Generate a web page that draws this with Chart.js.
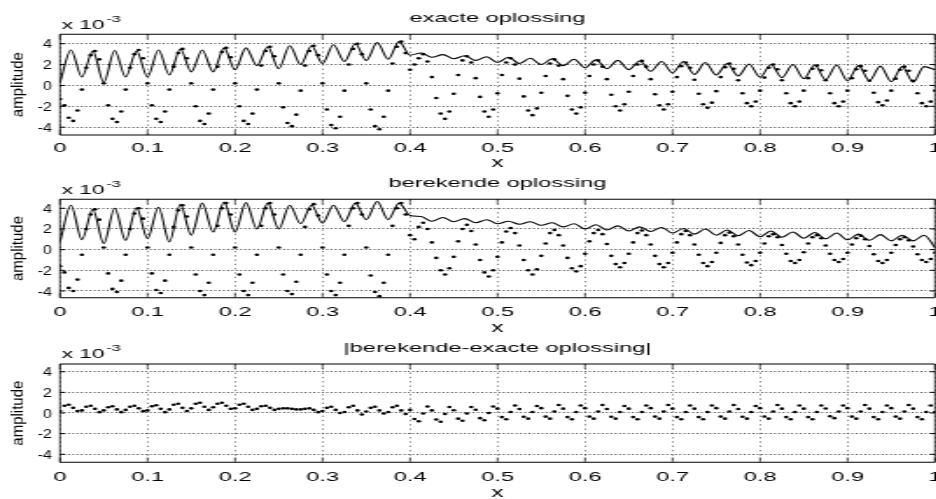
<!DOCTYPE html>
<html>
<head>
<meta charset="utf-8">
<title>exacte en berekende oplossing</title>
<script src="https://cdn.jsdelivr.net/npm/chart.js@4.4.1/dist/chart.umd.min.js"></script>
<style>
    html, body { margin: 0; padding: 0; background: #fff; overflow: hidden; }
    body { width: 936px; height: 499px; position: relative; }
    /* the scanned figure is much wider than its text is tall, so each canvas is widened */
    .band { position: absolute; left: 0; width: 535px; height: 172px; transform: scaleX(1.75); transform-origin: 0 0; }
</style>
</head>
<body>
<div class="band" style="top:0px"><canvas id="exactChart" width="535" height="172"></canvas></div>
<div class="band" style="top:165px"><canvas id="computedChart" width="535" height="172"></canvas></div>
<div class="band" style="top:330px"><canvas id="differenceChart" width="535" height="172"></canvas></div>
<script>
const xTicks = [0, 0.1, 0.2, 0.3, 0.4, 0.5, 0.6, 0.7, 0.8, 0.9, 1]
const xTickLabels = ['0', '0.1', '0.2', '0.3', '0.4', '0.5', '0.6', '0.7', '0.8', '0.9', '1']
const yTicks = [-4, -2, 0, 2, 4]
const yTickLabels = ['-4', '-2', '0', '2', '4']

// sampling of the two kinds of curves along x
const dotStep = 0.005
const lineStep = 0.0125

// exacte oplossing (values x 10^-3)
const exactLine = [
    0.3, 3.4, 0.8, 3.3, 0.3, 3.35, 0.8, 3.3, 0.8, 3.4,
    1.0, 3.5, 1.3, 3.4, 1.3, 3.6, 1.5, 3.6, 1.9, 3.7,
    1.6, 3.8, 2.0, 3.8, 2.1, 3.9, 2.3, 4.0, 2.4, 4.1,
    2.5, 4.2, 2.9, 3.1, 2.7, 2.95, 2.55, 2.85, 2.4, 2.75,
    2.2, 2.7, 2.1, 2.6, 2.0, 2.55, 1.9, 2.5, 1.7, 2.45,
    1.6, 2.4, 1.5, 2.35, 1.35, 2.3, 1.2, 2.3, 1.05, 2.2,
    1.0, 2.1, 0.9, 2.05, 0.8, 2.0, 0.75, 2.0, 0.65, 1.95,
    0.55, 1.95, 0.45, 1.9, 0.45, 1.85, 0.35, 1.8, 0.3, 1.8,
    1.5
]
const exactDots = [
    -1.3, -1.9, -3.1, -3.4, -2.4, -0.4, 1.7, 2.9, 3.3, 2.5,
    0.2, -1.9, -3.2, -3.5, -2.5, -0.4, 1.7, 3.0, 3.4, 2.6,
    0.2, -1.9, -3.2, -3.5, -2.5, -0.4, 1.8, 3.1, 3.5, 2.6,
    0.2, -2.0, -3.4, -3.7, -2.7, -0.4, 1.8, 3.2, 3.6, 2.7,
    0.2, -2.0, -3.4, -3.7, -2.7, -0.4, 1.9, 3.3, 3.7, 2.8,
    0.2, -2.1, -3.6, -3.9, -2.8, -0.5, 1.9, 3.3, 3.8, 2.9,
    0.2, -2.3, -3.8, -4.1, -3.0, -0.5, 2.0, 3.5, 4.0, 3.0,
    0.2, -2.3, -3.9, -4.2, -3.0, -0.5, 2.1, 3.7, 4.2, 3.1,
    1.5, 2.0, 2.6, 3.0, 2.3, 0.8, -1.2, -2.7, -3.2, -2.5,
    -0.8, 1.0, 2.4, 2.8, 2.2, 0.7, -1.1, -2.5, -3.0, -2.3,
    -0.75, 1.0, 2.2, 2.6, 2.0, 0.65, -1.05, -2.4, -2.85, -2.2,
    -0.7, 0.9, 2.1, 2.5, 1.9, 0.6, -1.0, -2.3, -2.7, -2.1,
    -0.7, 0.9, 2.0, 2.4, 1.8, 0.6, -0.9, -2.0, -2.4, -1.8,
    -0.6, 0.9, 2.0, 2.35, 1.8, 0.6, -0.85, -1.9, -2.3, -1.8,
    -0.6, 0.8, 1.85, 2.2, 1.7, 0.55, -0.8, -1.8, -2.15, -1.65,
    -0.55, 0.8, 1.75, 2.1, 1.6, 0.5, -0.75, -1.7, -2.0, -1.55,
    -0.5, 0.75, 1.7, 2.0, 1.55, 0.5, -0.75, -1.7, -2.0, -1.55,
    -0.5, 0.7, 1.6, 1.9, 1.45, 0.5, -0.75, -1.7, -2.0, -1.55,
    -0.5, 0.7, 1.55, 1.85, 1.4, 0.45, -0.7, -1.6, -1.9, -1.45,
    -0.5, 0.65, 1.5, 1.8, 1.4, 0.45, -0.75, -1.7, -2.0, -1.55,
    -0.5
]

// berekende oplossing
const computedLine = [
    0.75, 4.3, 0.97, 3.9, 0.6, 4.0, 0.9, 4.05, 1.07, 4.1,
    0.75, 4.4, 1.4, 4.5, 1.7, 4.6, 1.7, 4.55, 2.0, 4.5,
    2.0, 4.3, 2.5, 4.3, 2.55, 4.3, 2.7, 4.5, 2.9, 4.65,
    2.9, 4.5, 3.3, 3.2, 2.75, 3.1, 2.7, 3.0, 2.6, 2.9,
    2.5, 2.75, 2.45, 2.7, 2.35, 2.6, 2.2, 2.5, 2.0, 2.4,
    1.9, 2.3, 1.8, 2.2, 1.75, 2.15, 1.6, 2.05, 1.5, 2.0,
    1.4, 1.9, 1.35, 1.85, 1.25, 1.8, 1.2, 1.7, 1.1, 1.65,
    1.05, 1.6, 0.95, 1.5, 0.9, 1.45, 0.85, 1.4, 0.85, 1.4,
    0.2
]
const computedDots = [
    -1.6, -2.2, -3.7, -4.0, -2.9, -0.5, 2.0, 3.4, 3.9, 2.9,
    0.2, -2.3, -3.8, -4.1, -3.0, -0.5, 2.0, 3.5, 4.0, 3.0,
    0.2, -2.3, -3.9, -4.2, -3.0, -0.5, 2.2, 3.8, 4.3, 3.2,
    0.2, -2.4, -4.0, -4.4, -3.2, -0.5, 2.3, 4.0, 4.5, 3.4,
    0.2, -2.4, -4.0, -4.4, -3.2, -0.5, 2.3, 4.0, 4.5, 3.4,
    0.2, -2.4, -4.0, -4.3, -3.1, -0.5, 2.2, 3.9, 4.4, 3.3,
    0.2, -2.4, -4.0, -4.4, -3.2, -0.5, 2.3, 4.0, 4.5, 3.4,
    0.2, -2.5, -4.1, -4.5, -3.2, -0.5, 2.3, 4.0, 4.5, 3.4,
    1.4, 1.0, 2.2, 2.6, 2.0, 0.7, -0.8, -2.0, -2.4, -1.8,
    -0.7, 0.8, 2.0, 2.4, 1.8, 0.5, -1.0, -2.2, -2.6, -2.0,
    -0.7, 0.7, 1.75, 2.1, 1.6, 0.4, -1.0, -2.0, -2.4, -1.9,
    -0.6, 0.6, 1.6, 1.9, 1.4, 0.4, -0.8, -1.8, -2.1, -1.6,
    -0.4, 0.8, 1.6, 1.9, 1.5, 0.55, -0.6, -1.4, -1.7, -1.3,
    -0.4, 0.7, 1.6, 1.85, 1.4, 0.5, -0.6, -1.4, -1.7, -1.3,
    -0.3, 0.7, 1.5, 1.8, 1.4, 0.5, -0.5, -1.3, -1.6, -1.2,
    -0.3, 0.65, 1.4, 1.65, 1.3, 0.5, -0.5, -1.25, -1.5, -1.1,
    -0.3, 0.6, 1.3, 1.5, 1.2, 0.45, -0.4, -1.1, -1.3, -1.0,
    -0.25, 0.6, 1.2, 1.4, 1.1, 0.4, -0.4, -1.0, -1.2, -0.9,
    -0.3, 0.5, 1.1, 1.35, 1.0, 0.35, -0.45, -1.1, -1.3, -1.0,
    -0.3, 0.45, 1.0, 1.2, 0.9, 0.3, -0.45, -1.0, -1.2, -0.9,
    -0.3
]

// |berekende-exacte oplossing|
const differenceDots = [
    0.2, 0.7, 0.8, 0.5, 0.2,
    0.25, 0.6, 0.7, 0.4, 0.08,
    0.25, 0.55, 0.65, 0.35, 0.08,
    0.3, 0.6, 0.7, 0.45, 0.18,
    0.25, 0.65, 0.75, 0.4, 0.08,
    0.35, 0.8, 0.9, 0.5, 0.2,
    0.45, 0.9, 1.0, 0.6, 0.3,
    0.55, 0.9, 1.0, 0.7, 0.4,
    0.45, 0.8, 0.9, 0.6, 0.3,
    0.4, 0.65, 0.7, 0.5, 0.3,
    0.4, 0.45, 0.45, 0.4, 0.35,
    0.35, 0.4, 0.45, 0.3, 0.08,
    0.2, 0.5, 0.6, 0.3, 0.0,
    0.1, 0.55, 0.7, 0.25, -0.15,
    0.15, 0.5, 0.6, 0.25, -0.05,
    0.1, 0.55, 0.7, 0.25, -0.1,
    0.3, -0.58, -0.8, -0.05, 0.63,
    0.25, -0.63, -0.85, -0.1, 0.58,
    0.27, -0.55, -0.75, -0.05, 0.58,
    0.32, -0.5, -0.7, 0.0, 0.63,
    0.42, -0.4, -0.6, 0.1, 0.73,
    0.39, -0.37, -0.55, 0.1, 0.68,
    0.47, -0.35, -0.55, 0.15, 0.78,
    0.42, -0.4, -0.6, 0.1, 0.73,
    0.47, -0.35, -0.55, 0.15, 0.78,
    0.39, -0.37, -0.55, 0.1, 0.68,
    0.42, -0.4, -0.6, 0.1, 0.73,
    0.47, -0.35, -0.55, 0.15, 0.78,
    0.42, -0.4, -0.6, 0.1, 0.73,
    0.42, -0.4, -0.6, 0.1, 0.73,
    0.47, -0.35, -0.55, 0.15, 0.78,
    0.39, -0.37, -0.55, 0.1, 0.68,
    0.47, -0.35, -0.55, 0.15, 0.78,
    0.42, -0.4, -0.6, 0.1, 0.73,
    0.42, -0.4, -0.6, 0.1, 0.73,
    0.44, -0.32, -0.5, 0.15, 0.73,
    0.47, -0.35, -0.55, 0.15, 0.78,
    0.42, -0.4, -0.6, 0.1, 0.73,
    0.47, -0.35, -0.55, 0.15, 0.78,
    0.42, -0.4, -0.6, 0.1, 0.73,
    0.1
]

const STRETCH = 1.75
const BAND_HEIGHT = 172
const PLOT_LEFT = 60 / STRETCH
const FONT = "'Liberation Sans', Arial, Helvetica, sans-serif"

const panels = [
    { canvasId: 'exactChart', title: 'exacte oplossing', line: exactLine, dots: exactDots,
      yMin: -4.75, yMax: 4.9, plotTop: 34.3, plotBottom: 135, titlePad: 10.6, tickPad: 5.4 },
    { canvasId: 'computedChart', title: 'berekende oplossing', line: computedLine, dots: computedDots,
      yMin: -4.65, yMax: 4.87, plotTop: 34.3, plotBottom: 132.7, titlePad: 10.6, tickPad: 6 },
    { canvasId: 'differenceChart', title: '|berekende-exacte oplossing|', line: null, dots: differenceDots,
      yMin: -4.78, yMax: 4.75, plotTop: 34, plotBottom: 132.3, titlePad: 10.5, tickPad: 7 }
]

const toPoints = (values, step) => values.map((y, i) => ({ x: i * step, y: y }))

function strokeSegment(ctx, x1, y1, x2, y2, width) {
    ctx.lineWidth = width
    ctx.beginPath()
    ctx.moveTo(x1, y1)
    ctx.lineTo(x2, y2)
    ctx.stroke()
}

// the last tick label may run off the canvas, like in the scan: no padding for it
function noLabelPadding(axis) {
    axis.paddingLeft = 0
    axis.paddingRight = 0
    axis.paddingTop = 0
    axis.paddingBottom = 0
}

// box, inward ticks, y labels and the exponent, drawn like the matlab axes
const matlabAxes = {
    id: 'matlabAxes',
    afterDraw(chart) {
        const { ctx, chartArea: a, scales } = chart
        ctx.save()
        ctx.strokeStyle = '#000'
        ctx.fillStyle = '#000'

        strokeSegment(ctx, a.left, a.top, a.right, a.top, 1.1)
        strokeSegment(ctx, a.left, a.bottom, a.right, a.bottom, 1.1)
        strokeSegment(ctx, a.left, a.top, a.left, a.bottom, 0.75)
        strokeSegment(ctx, a.right, a.top, a.right, a.bottom, 0.75)

        xTicks.forEach(v => {
            const px = scales.x.getPixelForValue(v)
            strokeSegment(ctx, px, a.bottom, px, a.bottom - 5, 0.6)
            strokeSegment(ctx, px, a.top, px, a.top + 5, 0.6)
        })

        ctx.font = '13.5px ' + FONT
        ctx.textAlign = 'right'
        ctx.textBaseline = 'middle'
        yTicks.forEach((v, i) => {
            const py = scales.y.getPixelForValue(v)
            strokeSegment(ctx, a.left, py, a.left + 2.9, py, 1)
            strokeSegment(ctx, a.right, py, a.right - 2.9, py, 1)
            ctx.save()
            ctx.translate(52 / STRETCH, py + 0.8)
            ctx.scale(1.2 / STRETCH, 1)
            ctx.fillText(yTickLabels[i], 0, 0)
            ctx.restore()
        })

        // y axis title, kept upright in width so it is not widened
        ctx.save()
        ctx.translate(17.5 / STRETCH, (a.top + a.bottom) / 2)
        ctx.scale(1.1 / STRETCH, 1)
        ctx.rotate(-Math.PI / 2)
        ctx.font = '15px ' + FONT
        ctx.textAlign = 'center'
        ctx.textBaseline = 'middle'
        ctx.fillText('amplitude', 0, 0)
        ctx.restore()

        // exponent above the axes
        ctx.textAlign = 'left'
        ctx.textBaseline = 'alphabetic'
        ctx.font = '13px ' + FONT
        const baseX = 61.7 / STRETCH
        ctx.fillText('x 10', baseX, a.top - 5.6)
        const w = ctx.measureText('x 10').width
        ctx.font = '9.5px ' + FONT
        ctx.fillText('-3', baseX + w + 0.8, a.top - 12.8)

        ctx.restore()
    }
}

function buildPanel(panel) {
    const datasets = []
    if (panel.line) {
        datasets.push({
            data: toPoints(panel.line, lineStep),
            borderColor: '#000',
            borderWidth: 1.05,
            pointRadius: 0,
            fill: false,
            cubicInterpolationMode: 'monotone'
        })
    }
    datasets.push({
        data: toPoints(panel.dots, dotStep),
        showLine: false,
        pointRadius: 1.3,
        pointBorderWidth: 0,
        pointBackgroundColor: '#000',
        pointHoverRadius: 0
    })

    const titleLineHeight = 13.5 * 1.2

    return new Chart(document.getElementById(panel.canvasId), {
        type: 'line',
        data: { datasets: datasets },
        options: {
            responsive: false,
            animation: false,
            devicePixelRatio: 1,
            events: [],
            layout: { autoPadding: false, padding: { left: 0, right: 0.7, top: 0, bottom: 0 } },
            plugins: {
                legend: { display: false },
                tooltip: { enabled: false },
                title: {
                    display: true,
                    text: panel.title,
                    fullSize: false,
                    color: '#000',
                    font: { family: FONT, size: 13.5, weight: 'normal' },
                    padding: { top: panel.titlePad, bottom: panel.plotTop - panel.titlePad - titleLineHeight }
                }
            },
            scales: {
                x: {
                    type: 'linear',
                    min: 0,
                    max: 1,
                    afterBuildTicks: axis => { axis.ticks = xTicks.map(v => ({ value: v })) },
                    afterFit: axis => {
                        axis.height = BAND_HEIGHT - panel.plotBottom
                        noLabelPadding(axis)
                    },
                    ticks: {
                        autoSkip: false,
                        maxRotation: 0,
                        padding: panel.tickPad,
                        color: '#000',
                        font: { family: FONT, size: 13.5 },
                        callback: (value, index) => xTickLabels[index]
                    },
                    grid: { color: '#333', lineWidth: 0.6, drawTicks: false },
                    border: { display: false, dash: [1.3, 3] },
                    title: {
                        display: true,
                        text: 'x',
                        color: '#000',
                        font: { family: FONT, size: 14 },
                        padding: { top: 0, bottom: 0 }
                    }
                },
                y: {
                    min: panel.yMin,
                    max: panel.yMax,
                    afterBuildTicks: axis => { axis.ticks = yTicks.map(v => ({ value: v })) },
                    afterFit: axis => {
                        axis.width = PLOT_LEFT
                        noLabelPadding(axis)
                    },
                    ticks: { display: false },
                    grid: { color: '#333', lineWidth: 1, drawTicks: false },
                    border: { display: false, dash: [0.86, 1.6] }
                }
            }
        },
        plugins: [matlabAxes]
    })
}

panels.forEach(buildPanel)
</script>
</body>
</html>
